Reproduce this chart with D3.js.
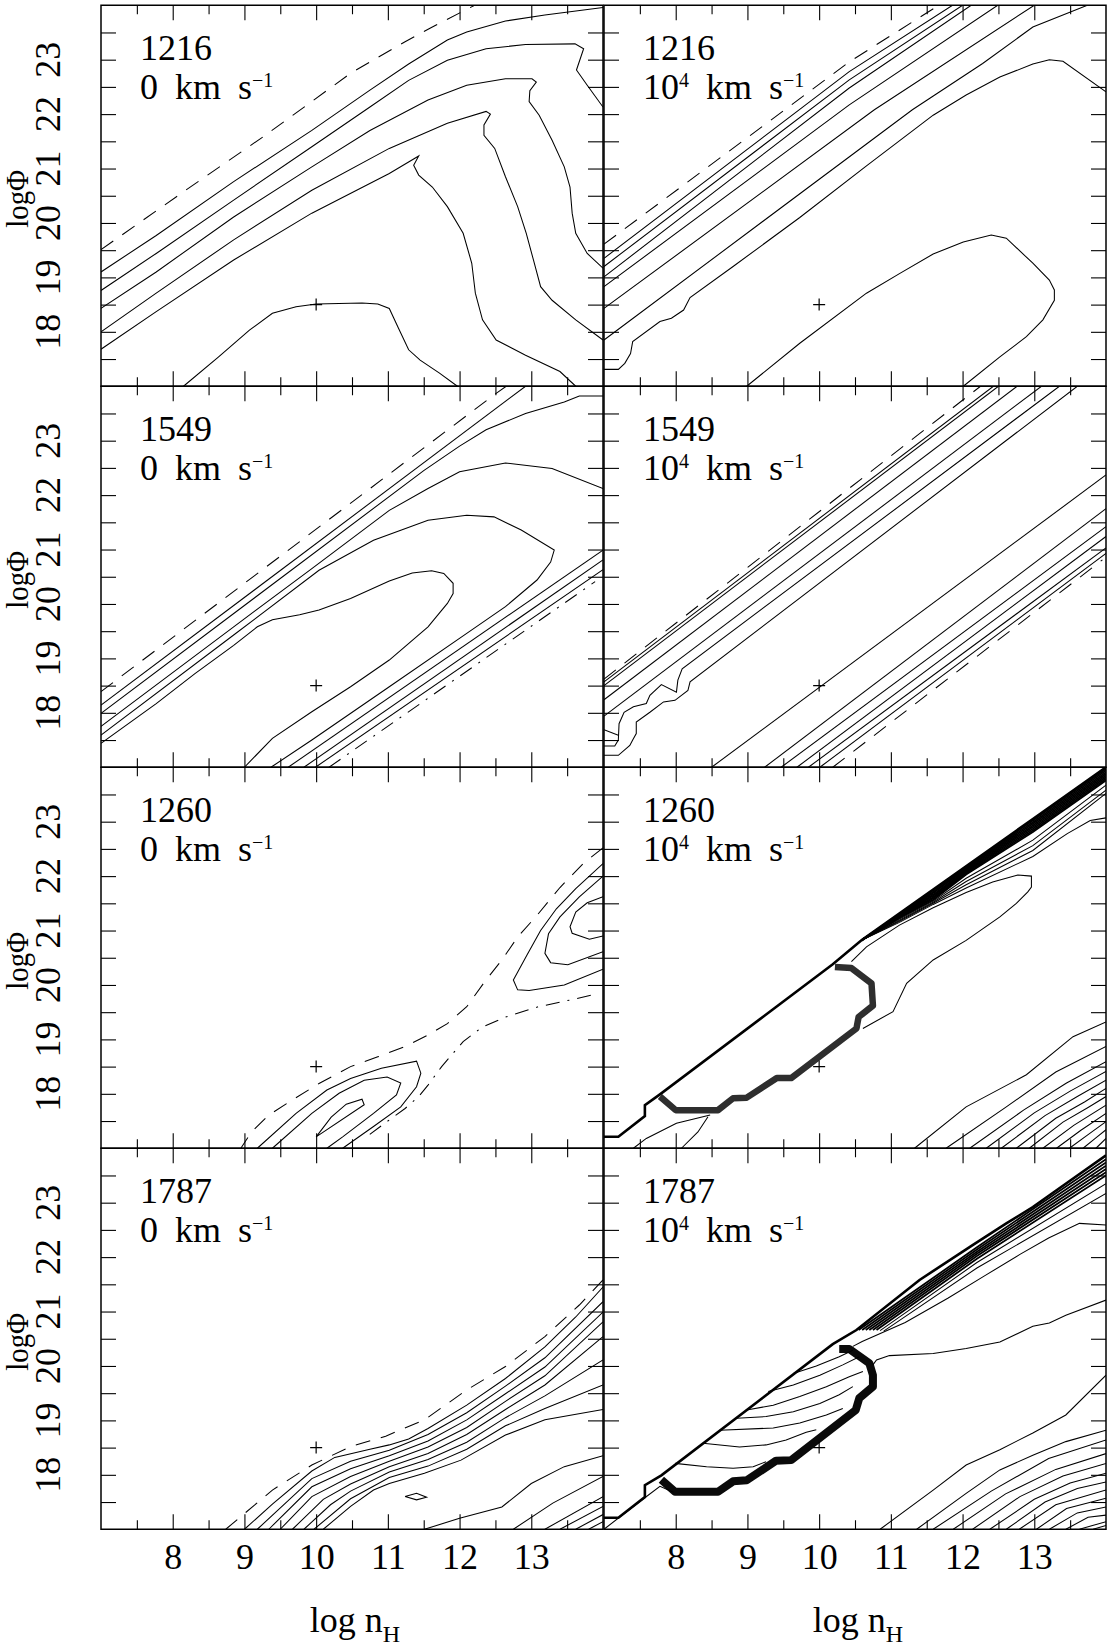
<!DOCTYPE html>
<html><head><meta charset="utf-8">
<script src="https://cdn.jsdelivr.net/npm/d3@7"></script>
<style>body{margin:0;background:#fff}svg{display:block}text{font-family:'Liberation Serif','DejaVu Serif',serif;fill:#000}</style>
</head><body>
<svg id="c" width="1107" height="1647"></svg>
<script>
// ---------- axis data ----------
const xDomain=[7,14], yDomain=[17,24];
const xMajor=[8,9,10,11,12,13], xMinor=[7.5,8.5,9.5,10.5,11.5,12.5,13.5];
const yTicks=[17.5,18,18.5,19,19.5,20,20.5,21,21.5,22,22.5,23,23.5];
const xLabels=[8,9,10,11,12,13], yLabels=[18,19,20,21,22,23];
const lines=["1216","1549","1260","1787"];
const velocities=["0","10^4"];
const crossPoint=[10,18.5];

// ---------- panel 1: 1216, 0 km/s ----------
const p1Dash=[[7.0,19.51],[8.18,20.60],[9.29,21.61],[10.48,22.75],[11.24,23.33],[11.62,23.60],[12.21,24.0]];
const p1C1=[[7.0,19.10],[7.77,19.77],[8.85,20.76],[9.94,21.70],[10.75,22.44],[11.29,22.92],[11.83,23.36],[12.10,23.51],[12.64,23.71],[13.19,23.82],[14.0,23.96]];
const p1C2=[[7.0,18.76],[7.77,19.44],[8.85,20.42],[9.94,21.40],[10.75,22.13],[11.29,22.62],[11.83,22.99],[12.37,23.20],[12.92,23.28],[13.61,23.29],[13.73,23.20],[13.63,22.81],[13.78,22.53],[14.0,22.13]];
const p1C3=[[7.0,18.43],[7.77,19.10],[8.85,20.11],[9.94,21.03],[10.75,21.70],[11.56,22.26],[12.10,22.53],[12.64,22.65],[13.01,22.65],[13.07,22.59],[12.98,22.43],[12.97,22.23],[13.11,21.98],[13.29,21.52],[13.46,21.03],[13.54,20.66],[13.57,20.18],[13.62,19.81],[13.78,19.44],[14.0,19.17]];
const p1C4=[[7.0,18.0],[7.77,18.71],[8.85,19.69],[9.94,20.60],[11.02,21.37],[11.83,21.83],[12.37,22.05],[12.43,22.0],[12.34,21.80],[12.34,21.61],[12.49,21.37],[12.64,20.85],[12.81,20.30],[12.93,19.81],[13.03,19.32],[13.13,18.83],[13.29,18.58],[13.62,18.22],[14.0,17.85]];
const p1C5=[[7.0,17.68],[7.77,18.37],[8.85,19.32],[9.94,20.18],[11.02,20.91],[11.43,21.23],[11.36,21.06],[11.43,20.88],[11.62,20.66],[11.83,20.30],[12.05,19.81],[12.17,19.26],[12.22,18.71],[12.32,18.22],[12.51,17.85],[12.92,17.57],[13.40,17.27],[13.62,17.0]];
const p1C6=[[8.15,17.0],[8.64,17.54],[9.07,18.03],[9.39,18.34],[9.72,18.46],[10.0,18.51],[10.64,18.53],[10.86,18.51],[11.02,18.43],[11.15,18.06],[11.29,17.67],[11.45,17.48],[11.72,17.24],[11.97,17.0]];

// ---------- panel 2: 1216, 10^4 km/s ----------
const p2Dash=[[7.0,19.61],[10.42,22.96],[11.67,24.0]];
const p2A=[[7.0,19.35],[10.42,22.78],[11.86,24.0]];
const p2B=[[7.0,19.20],[10.42,22.63],[12.0,24.0]];
const p2C=[[7.0,19.01],[10.42,22.48],[12.12,24.0]];
const p2D=[[7.0,18.83],[10.42,22.17],[12.49,24.0]];
const p2E=[[7.0,18.43],[10.77,22.08],[13.0,24.0]];
const p2F=[[7.0,17.85],[11.30,22.08],[12.28,22.93],[12.98,23.6],[13.74,24.0]];
const p2W=[[7.0,17.31],[7.20,17.31],[7.29,17.42],[7.37,17.60],[7.40,17.82],[7.78,18.19],[7.94,18.25],[8.11,18.40],[8.20,18.63],[8.80,19.20],[9.73,20.10],[10.66,21.05],[11.59,21.98],[12.05,22.35],[12.52,22.68],[12.98,22.92],[13.21,23.0],[13.40,22.97],[14.0,22.41]];
const p2Oval=[[8.99,17.0],[9.73,17.79],[10.66,18.71],[11.12,19.07],[11.59,19.43],[12.01,19.65],[12.40,19.78],[12.61,19.72],[12.98,19.26],[13.21,18.95],[13.28,18.77],[13.28,18.58],[13.12,18.22],[12.89,17.91],[12.52,17.54],[12.01,17.0]];

// ---------- panel 3: 1549, 0 km/s ----------
const p3DashU=[[7.0,18.39],[12.51,23.87],[12.65,24.0]];
const p3S1=[[7.0,18.14],[12.92,24.0]];
const p3S2=[[7.0,17.99],[11.5,22.45],[12.0,22.9],[12.37,23.2],[12.92,23.5],[13.46,23.71],[13.67,23.82],[14.0,23.82]];
const p3S3=[[7.0,17.75],[8.85,19.58],[9.94,20.65],[11.02,21.72],[11.56,22.12],[12.0,22.43],[12.64,22.59],[13.29,22.49],[14.0,22.12]];
const p3S4=[[7.0,17.59],[8.85,19.43],[10.04,20.62],[10.80,21.17],[11.56,21.54],[12.10,21.63],[12.48,21.60],[12.86,21.36],[13.32,20.99],[13.27,20.77],[13.08,20.44],[12.64,19.95],[12.10,19.46],[11.02,18.48],[9.94,17.50],[9.37,17.0]];
const p3S5=[[7.0,17.44],[7.77,18.17],[8.31,18.72],[8.85,19.24],[9.18,19.58],[9.39,19.71],[9.77,19.80],[10.04,19.89],[10.48,20.10],[11.02,20.42],[11.34,20.57],[11.61,20.61],[11.78,20.56],[11.91,20.38],[11.91,20.19],[11.83,20.01],[11.56,19.58],[11.02,18.97],[10.48,18.48],[9.94,18.02],[9.39,17.53],[9.0,17.0]];
const p3L2=[[9.61,17.0],[14.0,20.99]];
const p3L3=[[9.83,17.0],[14.0,20.81]];
const p3L4=[[9.99,17.0],[14.0,20.63]];
const p3DashL=[[10.18,17.0],[13.89,20.41]];

// ---------- panel 4: 1549, 10^4 km/s ----------
const p4Dash=[[7.0,18.62],[12.25,24.0]];
const p4U1=[[7.0,18.57],[12.43,24.0]];
const p4U2=[[7.0,18.50],[12.50,24.0]];
const p4U3=[[7.0,18.24],[12.76,24.0]];
const p4U4=[[7.0,17.94],[13.10,24.0]];
const p4W1=[[7.0,17.39],[7.15,17.39],[7.20,17.50],[7.21,17.80],[7.28,18.01],[7.41,18.11],[7.59,18.17],[7.64,18.32],[7.80,18.52],[8.01,18.38],[8.03,18.60],[8.09,18.81],[13.35,24.0]];
const p4W2=[[7.0,17.22],[7.20,17.22],[7.36,17.40],[7.40,17.50],[7.45,17.62],[7.45,17.83],[7.64,18.01],[7.83,18.20],[7.99,18.23],[8.17,18.41],[8.20,18.57],[13.6,24.0]];
const p4Seg=[[7.0,17.69],[7.20,17.59]];
const p4L1=[[8.50,17.0],[14.0,22.37]];
const p4L2=[[9.24,17.0],[14.0,21.75]];
const p4L3=[[9.47,17.0],[14.0,21.42]];
const p4L4=[[9.69,17.0],[14.0,21.24]];
const p4L5=[[9.85,17.0],[14.0,21.03]];
const p4L6=[[10.01,17.0],[14.0,20.93]];
const p4DashL=[[10.19,17.0],[13.95,20.81]];

// ---------- panel 5: 1260, 0 km/s ----------
const p5DashA=[[14.0,22.52],[13.73,22.24],[13.40,21.79],[13.08,21.28],[12.81,20.88],[12.59,20.46],[12.35,20.06],[12.10,19.60],[11.83,19.29],[11.56,19.08],[11.24,18.87],[10.86,18.68],[10.48,18.50],[10.04,18.19],[9.67,17.89],[9.34,17.61],[9.1,17.3],[8.95,17.0]];
const p5DashB=[[13.83,19.81],[13.46,19.70],[13.10,19.60],[12.64,19.41],[12.32,19.23],[12.05,18.96],[11.75,18.50],[11.56,18.16],[11.43,17.95],[11.24,17.73],[11.02,17.52],[10.67,17.18]];
const p5Out=[[9.18,17.0],[9.72,17.64],[10.15,18.07],[10.48,18.28],[10.91,18.47],[11.40,18.60],[11.46,18.38],[11.40,18.13],[11.18,17.76],[10.80,17.40],[10.37,17.0]];
const p5Mid=[[9.39,17.0],[9.94,17.64],[10.32,18.01],[10.67,18.25],[10.99,18.31],[11.18,18.20],[11.12,17.98],[10.80,17.64],[10.37,17.21],[10.15,17.0]];
const p5In=[[10.0,17.21],[10.21,17.57],[10.42,17.81],[10.64,17.90],[10.67,17.80],[10.0,17.21]];
const p5Loop1=[[14.0,22.23],[13.62,21.77],[13.35,21.40],[13.13,21.0],[12.94,20.55],[12.75,20.09],[12.81,19.91],[12.97,19.90],[13.46,20.0],[14.0,20.29]];
const p5Loop2=[[14.0,22.0],[13.67,21.62],[13.40,21.25],[13.24,20.94],[13.19,20.58],[13.27,20.41],[13.51,20.37],[14.0,20.61]];
const p5Loop3=[[14.0,21.62],[13.78,21.51],[13.62,21.34],[13.54,21.07],[13.57,20.95],[13.81,20.84],[14.0,20.90]];

// ---------- panel 6: 1260, 10^4 km/s ----------
const p6Bold=[[7.0,17.21],[7.20,17.21],[7.57,17.59],[7.57,17.79],[7.78,17.99],[10.19,20.38],[10.59,20.82],[12.98,23.05],[14.0,24.0]];
const p6Ring=[[10.22,20.33],[10.45,20.31],[10.73,20.03],[10.75,19.62],[10.55,19.41],[10.52,19.20],[9.61,18.29],[9.41,18.29],[8.99,17.93],[8.80,17.92],[8.59,17.70],[8.0,17.70],[7.78,17.95]];
const p6E=[[10.45,20.43],[10.66,20.70],[11.12,21.10],[11.59,21.42],[12.05,21.70],[12.42,21.89],[12.77,22.02],[12.96,22.0],[12.96,21.80],[12.91,21.71],[12.75,21.50],[12.52,21.25],[12.05,20.82],[11.59,20.46],[11.22,20.03],[11.03,19.51],[10.61,19.20]];
const p6Band=[
 [[10.59,20.82],[11.12,21.30],[11.59,21.74],[12.05,22.17],[12.98,23.02],[14.0,23.97]],
 [[10.59,20.82],[11.12,21.29],[11.59,21.71],[12.05,22.15],[12.98,22.99],[14.0,23.94]],
 [[10.59,20.82],[11.12,21.28],[11.59,21.69],[12.05,22.13],[12.98,22.96],[14.0,23.91]],
 [[10.59,20.82],[11.12,21.27],[11.59,21.66],[12.05,22.11],[12.98,22.93],[14.0,23.88]],
 [[10.59,20.82],[11.12,21.26],[11.59,21.64],[12.05,22.09],[12.98,22.90],[14.0,23.85]],
 [[10.59,20.82],[11.12,21.25],[11.59,21.61],[12.05,22.07],[12.98,22.87],[14.0,23.82]],
 [[10.59,20.82],[11.12,21.24],[11.59,21.59],[12.05,22.05],[12.98,22.84],[14.0,23.79]],
 [[10.59,20.82],[11.12,21.23],[11.59,21.56],[12.05,22.03],[12.98,22.81],[14.0,23.76]]
];
const p6Fringe=[
 [[10.59,20.82],[11.12,21.21],[11.59,21.54],[12.05,21.96],[12.98,22.66],[14.0,23.67]],
 [[10.59,20.82],[11.12,21.19],[11.59,21.52],[12.05,21.90],[12.98,22.56],[14.0,23.58]],
 [[10.59,20.82],[11.12,21.17],[11.59,21.50],[12.05,21.84],[12.98,22.47],[14.0,23.52]],
 [[10.59,20.82],[11.12,21.15],[11.59,21.48],[12.05,21.78],[12.98,22.36],[13.46,22.78],[13.78,23.02],[14.0,23.07]]
];
const p6Low1=[[7.41,17.0],[7.59,17.18],[8.01,17.46],[8.48,17.61]];
const p6Low2=[[8.08,17.0],[8.31,17.30],[8.45,17.58]];
const p6Fan=[
 [[11.33,17.0],[12.05,17.76],[12.89,18.35],[13.54,19.05],[14.0,19.32]],
 [[11.77,17.0],[12.6,17.75],[13.3,18.4],[14.0,18.87]],
 [[12.10,17.0],[12.85,17.7],[13.45,18.2],[14.0,18.59]],
 [[12.33,17.0],[13.0,17.65],[13.5,18.05],[14.0,18.41]],
 [[12.54,17.0],[13.15,17.6],[13.6,17.95],[14.0,18.25]],
 [[12.75,17.0],[13.3,17.55],[13.7,17.85],[14.0,18.10]],
 [[12.93,17.0],[13.4,17.48],[13.75,17.75],[14.0,17.95]],
 [[13.12,17.0],[13.55,17.42],[14.0,17.79]],
 [[13.31,17.0],[13.65,17.33],[14.0,17.64]],
 [[13.49,17.0],[13.75,17.25],[14.0,17.49]],
 [[13.68,17.0],[13.85,17.18],[14.0,17.34]],
 [[13.86,17.0],[14.0,17.18]]
];

// ---------- panel 7: 1787, 0 km/s ----------
const p7Dash=[[8.74,17.0],[9.39,17.72],[9.94,18.18],[10.48,18.52],[10.97,18.71],[11.51,19.01],[12.10,19.56],[12.64,19.99],[13.19,20.54],[13.67,21.12],[14.0,21.58]];
const p7L1=[[9.0,17.0],[9.39,17.46],[9.94,18.07],[10.26,18.32],[10.75,18.47],[11.02,18.55],[11.29,18.66],[11.56,18.85],[12.10,19.28],[12.64,19.77],[13.19,20.35],[13.62,20.90],[14.0,21.45]];
const p7L2=[[9.18,17.0],[9.94,17.93],[10.48,18.25],[11.02,18.45],[11.56,18.74],[12.10,19.14],[12.64,19.63],[13.19,20.15],[14.0,21.18]];
const p7L3=[[9.34,17.0],[9.94,17.78],[10.48,18.11],[11.02,18.35],[11.56,18.62],[12.10,19.01],[12.64,19.49],[13.19,19.98],[14.0,20.99]];
const p7L4=[[9.50,17.0],[9.94,17.60],[10.48,17.97],[11.02,18.25],[11.56,18.51],[12.10,18.87],[12.64,19.35],[13.19,19.82],[14.0,20.81]];
const p7L5=[[9.67,17.0],[10.1,17.55],[10.48,17.83],[11.02,18.15],[11.56,18.39],[12.10,18.74],[12.64,19.20],[13.19,19.65],[14.0,20.54]];
const p7L6=[[9.83,17.0],[10.2,17.45],[10.48,17.70],[11.02,18.05],[11.56,18.28],[12.10,18.60],[12.64,19.05],[13.19,19.45],[14.0,20.11]];
const p7L7=[[9.97,17.0],[10.48,17.56],[11.02,17.95],[11.56,18.16],[12.10,18.47],[12.64,18.90],[13.19,19.22],[14.0,19.65]];
const p7L8=[[10.10,17.0],[10.48,17.42],[10.80,17.72],[11.02,17.84],[11.51,18.03],[12.02,18.27],[12.64,18.73],[13.19,19.01],[14.0,19.20]];
const p7M=[[11.51,17.0],[12.0,17.20],[12.59,17.41],[13.0,17.84],[13.46,18.15],[14.0,18.35]];
const p7N=[[12.75,17.0],[13.30,17.48],[14.0,17.97]];
const p7H1=[[13.19,17.0],[14.0,17.60]];
const p7H2=[[13.40,17.0],[14.0,17.42]];
const p7H3=[[13.62,17.0],[14.0,17.27]];
const p7H4=[[13.80,17.0],[14.0,17.14]];
const p7Diamond=[[11.24,17.60],[11.40,17.66],[11.54,17.59],[11.40,17.54],[11.24,17.60]];

// ---------- panel 8: 1787, 10^4 km/s ----------
const p8Bold=[[7.0,17.21],[7.20,17.21],[7.57,17.59],[7.57,17.81],[7.80,17.99],[10.19,20.40],[10.52,20.66],[11.40,21.58],[12.14,22.22],[12.61,22.62],[12.98,22.92],[14.0,23.87]];
const p8Thin=[[7.0,17.0],[7.5,17.51],[7.78,17.79],[7.97,17.68]];
const p8Ring=[[10.28,20.31],[10.42,20.31],[10.70,20.05],[10.75,19.83],[10.75,19.62],[10.56,19.41],[10.51,19.19],[9.61,18.27],[9.40,18.26],[8.99,17.90],[8.80,17.88],[8.59,17.69],[7.99,17.69],[7.80,17.91]];
const p8Arcs=[
 [[7.99,18.21],[8.43,18.15],[8.80,18.12],[9.08,18.15],[9.26,18.24]],
 [[8.38,18.58],[8.89,18.51],[9.26,18.55],[9.54,18.64],[9.82,18.78],[9.96,18.83]],
 [[8.61,18.82],[9.36,18.86],[9.73,18.95],[10.10,19.10],[10.33,19.22]],
 [[8.85,19.04],[9.26,19.07],[9.64,19.16],[10.01,19.31],[10.28,19.47],[10.47,19.62]],
 [[8.99,19.19],[9.36,19.28],[9.73,19.44],[10.10,19.62],[10.42,19.80],[10.61,19.90]],
 [[9.29,19.53],[9.64,19.65],[10.01,19.83],[10.33,20.02],[10.56,20.17]],
 [[9.64,19.86],[9.96,20.0],[10.28,20.17],[10.47,20.29]]
];
const p8Band=[
 [[10.55,20.66],[12.2,22.18],[14.0,23.80]],
 [[10.60,20.66],[12.2,22.14],[14.0,23.74]],
 [[10.65,20.66],[12.2,22.10],[14.0,23.68]],
 [[10.70,20.66],[12.2,22.06],[14.0,23.62]],
 [[10.75,20.66],[12.2,22.02],[14.0,23.56]],
 [[10.80,20.66],[12.2,21.97],[14.0,23.50]]
];
const p8Fringe=[
 [[10.85,20.65],[12.2,21.90],[14.0,23.35]],
 [[10.90,20.64],[12.2,21.80],[14.0,23.17]]
];
const p8G=[[10.47,20.36],[10.6,20.45],[11.2,20.8],[11.8,21.25],[12.3,21.65],[12.8,22.05],[13.2,22.35],[13.63,22.62],[14.0,22.59]];
const p8H=[[10.75,20.02],[10.80,20.11],[10.98,20.19],[11.59,20.23],[12.05,20.32],[12.52,20.44],[12.98,20.73],[13.21,20.79],[13.44,20.93],[14.0,21.21]];
const p8Fan=[
 [[10.85,17.0],[11.59,17.72],[12.05,18.18],[12.52,18.46],[12.98,18.77],[13.44,19.10],[14.0,19.83]],
 [[11.36,17.0],[12.05,17.66],[12.52,18.09],[12.98,18.36],[13.44,18.61],[14.0,18.82]],
 [[11.59,17.0],[12.4,17.7],[13.2,18.3],[14.0,18.64]],
 [[11.87,17.0],[12.6,17.65],[13.3,18.1],[14.0,18.39]],
 [[12.14,17.0],[12.8,17.6],[13.4,17.98],[14.0,18.21]],
 [[12.38,17.0],[13.0,17.55],[13.5,17.85],[14.0,18.03]],
 [[12.61,17.0],[13.15,17.5],[13.6,17.75],[14.0,17.87]],
 [[12.79,17.0],[13.3,17.45],[14.0,17.72]],
 [[13.03,17.0],[13.45,17.38],[14.0,17.57]],
 [[13.21,17.0],[13.6,17.3],[14.0,17.41]],
 [[13.44,17.0],[13.75,17.22],[14.0,17.26]],
 [[13.63,17.0],[14.0,17.14]],
 [[13.82,17.0],[14.0,17.07]]
];

// ---------- panel assembly (styles kept apart from data) ----------
const S="solid",D="dash",DD="dashdot",B="bold",BD="band",R6="ring6",R8="ring8";
const panels=[
 {r:0,c:0,items:[[p1Dash,D],[p1C1,S],[p1C2,S],[p1C3,S],[p1C4,S],[p1C5,S],[p1C6,S]]},
 {r:0,c:1,items:[[p2Dash,D],[p2A,S],[p2B,S],[p2C,S],[p2D,S],[p2E,S],[p2F,S],[p2W,S],[p2Oval,S]]},
 {r:1,c:0,items:[[p3DashU,D],[p3S1,S],[p3S2,S],[p3S3,S],[p3S4,S],[p3S5,S],[p3L2,S],[p3L3,S],[p3L4,S],[p3DashL,DD]]},
 {r:1,c:1,items:[[p4Dash,D],[p4U1,S],[p4U2,S],[p4U3,S],[p4U4,S],[p4W1,S],[p4W2,S],[p4Seg,S],[p4L1,S],[p4L2,S],[p4L3,S],[p4L4,S],[p4L5,S],[p4L6,S],[p4DashL,D]]},
 {r:2,c:0,items:[[p5DashA,D],[p5DashB,DD],[p5Out,S],[p5Mid,S],[p5In,S],[p5Loop1,S],[p5Loop2,S],[p5Loop3,S]]},
 {r:2,c:1,items:[[p6Ring,R6],[p6Bold,B],[p6E,S],...p6Band.map(d=>[d,BD]),...p6Fringe.map(d=>[d,S]),[p6Low1,S],[p6Low2,S],...p6Fan.map(d=>[d,S])]},
 {r:3,c:0,items:[[p7Dash,D],[p7L1,S],[p7L2,S],[p7L3,S],[p7L4,S],[p7L5,S],[p7L6,S],[p7L7,S],[p7L8,S],[p7M,S],[p7N,S],[p7H1,S],[p7H2,S],[p7H3,S],[p7H4,S],[p7Diamond,S]]},
 {r:3,c:1,items:[[p8Ring,R8],[p8Bold,B],[p8Thin,S],...p8Arcs.map(d=>[d,S]),...p8Band.map(d=>[d,BD]),...p8Fringe.map(d=>[d,S]),[p8G,S],[p8H,S],...p8Fan.map(d=>[d,S])]}
];

const colX=[101,604], rowY=[5.25,386.25,767.25,1148.25], PW=502, PH=381;
const styles={
 solid:{w:1.05,c:"#000",da:null},
 dash:{w:1.05,c:"#000",da:"15,11"},
 dashdot:{w:1.05,c:"#000",da:"14,8,2,8"},
 bold:{w:2.6,c:"#000",da:null},
 band:{w:1.8,c:"#000",da:null},
 ring6:{w:6.5,c:"#2e2e2e",da:null},
 ring8:{w:8,c:"#0a0a0a",da:null}
};

const svg=d3.select("#c");
const defs=svg.append("defs");
const fmtNone=()=>"";

panels.forEach((p,i)=>{
  const x0=colX[p.c], y0=rowY[p.r];
  const x=d3.scaleLinear().domain(xDomain).range([x0,x0+PW]);
  const y=d3.scaleLinear().domain(yDomain).range([y0+PH,y0]);
  const line=d3.line().x(d=>x(d[0])).y(d=>y(d[1]));
  defs.append("clipPath").attr("id","cp"+i).append("rect").attr("x",x0).attr("y",y0).attr("width",PW).attr("height",PH);
  const g=svg.append("g").attr("clip-path",`url(#cp${i})`);
  p.items.forEach(([data,st])=>{
    const s=styles[st];
    g.append("path").attr("d",line(data)).attr("fill","none")
      .attr("stroke",s.c).attr("stroke-width",s.w)
      .attr("stroke-linejoin",st.startsWith("ring")?"round":"miter")
      .attr("stroke-dasharray",s.da);
  });
  // cross
  const cx=x(crossPoint[0]), cy=y(crossPoint[1]);
  svg.append("path").attr("d",`M${cx-6},${cy}H${cx+6}M${cx},${cy-6}V${cy+6}`).attr("stroke","#000").attr("stroke-width",1.2);

  // axes with inward ticks on all four sides
  const ax=(sel,fn)=>{sel.call(fn); sel.select(".domain").remove(); sel.selectAll(".tick line").attr("stroke","#000").attr("stroke-width",1.1);};
  const bottom=svg.append("g").attr("transform",`translate(0,${y0+PH})`);
  ax(bottom,d3.axisBottom(x).tickValues(xMajor).tickSizeInner(-15).tickSizeOuter(0).tickPadding(14).tickFormat(p.r===3?d3.format("d"):fmtNone));
  bottom.attr("font-size",36).attr("font-family","'Liberation Serif','DejaVu Serif',serif");
  ax(svg.append("g").attr("transform",`translate(0,${y0+PH})`),d3.axisBottom(x).tickValues(xMinor).tickSizeInner(-9).tickSizeOuter(0).tickFormat(fmtNone));
  ax(svg.append("g").attr("transform",`translate(0,${y0})`),d3.axisTop(x).tickValues(xMajor).tickSizeInner(-15).tickSizeOuter(0).tickFormat(fmtNone));
  ax(svg.append("g").attr("transform",`translate(0,${y0})`),d3.axisTop(x).tickValues(xMinor).tickSizeInner(-9).tickSizeOuter(0).tickFormat(fmtNone));
  ax(svg.append("g").attr("transform",`translate(${x0},0)`),d3.axisLeft(y).tickValues(yTicks).tickSizeInner(-15).tickSizeOuter(0).tickFormat(fmtNone));
  ax(svg.append("g").attr("transform",`translate(${x0+PW},0)`),d3.axisRight(y).tickValues(yTicks).tickSizeInner(-15).tickSizeOuter(0).tickFormat(fmtNone));
  // frame
  svg.append("rect").attr("x",x0).attr("y",y0).attr("width",PW).attr("height",PH).attr("fill","none").attr("stroke","#000").attr("stroke-width",1.5);

  // y tick labels & title on left column
  if(p.c===0){
    yLabels.forEach(v=>{
      svg.append("text").attr("transform",`translate(48,${y(v)}) rotate(-90)`).attr("text-anchor","middle").attr("dy","0.33em").attr("font-size",36).text(v);
    });
    svg.append("text").attr("transform",`translate(20,${y0+PH/2+3}) rotate(-90) scale(0.9,1)`).attr("text-anchor","middle").attr("dy","0.25em").attr("font-size",32).text("logΦ");
  }
  // x title on bottom row
  if(p.r===3){
    const t=svg.append("text").attr("x",x0+PW/2+3).attr("y",1632).attr("text-anchor","middle").attr("font-size",36).style("white-space","pre");
    t.append("tspan").text("log n");
    t.append("tspan").attr("dy",10).attr("font-size",24).text("H");
  }
  // panel labels
  svg.append("text").attr("x",x0+39).attr("y",y0+55).attr("font-size",36).text(lines[p.r]);
  const t2=svg.append("text").attr("x",x0+39).attr("y",y0+94).attr("font-size",36).style("white-space","pre").style("word-spacing","8px");
  const vel=velocities[p.c];
  if(vel==="0"){ t2.append("tspan").text("0 km s"); }
  else { t2.append("tspan").text("10"); t2.append("tspan").attr("dy",-12).attr("font-size",20).text("4"); t2.append("tspan").attr("dy",12).text(" km s"); }
  t2.append("tspan").attr("dy",-12).attr("font-size",20).text("−1");
});
</script>
</body></html>
